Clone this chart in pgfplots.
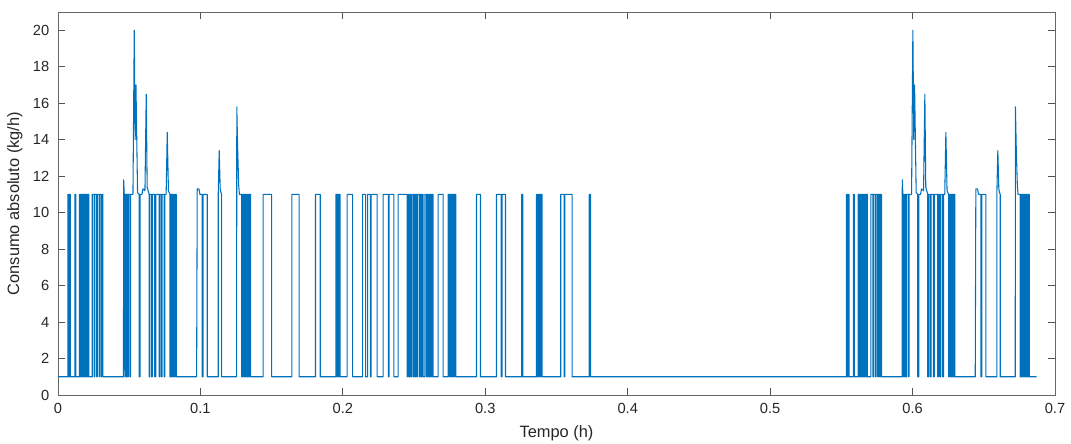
\documentclass[border=0pt]{standalone}
\usepackage{pgfplots}
\pgfplotsset{compat=1.18}
\usepackage{fontspec}
\setmainfont{Liberation Sans}
\definecolor{mblue}{rgb}{0,0.447,0.741}
\definecolor{axgray}{rgb}{0.15,0.15,0.15}
\begin{document}
\begin{tikzpicture}
\begin{axis}[
  at={(0,0)}, anchor=origin,
  scale only axis,
  width=747.75pt, height=287.25pt,
  xmin=0, xmax=0.7, ymin=0, ymax=21,
  xtick={0,0.1,0.2,0.3,0.4,0.5,0.6,0.7},
  ytick={0,2,4,6,8,10,12,14,16,18,20},
  tick align=inside, tick pos=both,
  major tick length=5pt,
  axis line style={draw=axgray!70, line width=0.6pt},
  every tick/.style={axgray!80, line width=0.6pt},
  /pgf/number format/assume math mode=true,
  ticklabel style={font=\fontsize{11}{13}\selectfont, text=axgray},
  xticklabel style={yshift=-2.5pt},
  yticklabel style={xshift=-3pt},
  xlabel={Tempo (h)}, ylabel={Consumo absoluto (kg/h)},
  label style={font=\fontsize{12.3}{14}\selectfont, text=axgray},
  xlabel style={yshift=-2pt},
  ylabel style={yshift=1pt},
]
\addplot[mblue, line width=0.8pt, line join=round] coordinates {
(0,1)
(0.00688,1)(0.00688,11)(0.00744,11)(0.00744,1)
(0.00814,1)(0.00814,11)(0.00870,11)(0.00870,1)
(0.01179,1)(0.01179,11)(0.01249,11)(0.01249,1)
(0.01509,1)(0.01509,11)(0.01551,11)(0.01551,1)
(0.01586,1)(0.01586,11)(0.01628,11)(0.01628,1)
(0.01656,1)(0.01656,11)(0.01705,11)(0.01705,1)
(0.01740,1)(0.01740,11)(0.01782,11)(0.01782,1)
(0.01818,1)(0.01818,11)(0.01860,11)(0.01860,1)
(0.01895,1)(0.01895,11)(0.01937,11)(0.01937,1)
(0.01965,1)(0.01965,11)(0.02014,11)(0.02014,1)
(0.02042,1)(0.02042,11)(0.02084,11)(0.02084,1)
(0.02119,1)(0.02119,11)(0.02161,11)(0.02161,1)
(0.02407,1)(0.02407,11)(0.02547,11)(0.02547,1)
(0.02589,1)(0.02589,11)(0.02723,11)(0.02723,1)
(0.02765,1)(0.02765,11)(0.02884,11)(0.02884,1)
(0.02926,1)(0.02926,11)(0.03025,11)(0.03025,1)
(0.03067,1)(0.03067,11)(0.03151,11)(0.03151,1)
(0.04596,1)(0.04611,11.8)(0.04653,11)(0.04695,11)(0.04695,1)
(0.04737,1)(0.04737,11)(0.04793,11)(0.04793,1)
(0.04835,1)(0.04835,11)(0.04891,11)(0.04891,1)
(0.04933,1)(0.04933,11)(0.05053,11)(0.05053,1)
(0.05095,1)(0.05095,11)(0.05263,11)(0.05354,20)(0.05418,14)(0.05474,17)(0.05586,11.1)(0.05698,11)(0.05698,1)
(0.05768,1)(0.05768,11)(0.05895,11)(0.05965,11.3)(0.06105,11.2)(0.06196,16.5)(0.06260,11.4)(0.06330,11.2)(0.06400,11)(0.06400,1)
(0.06456,1)(0.06456,11)(0.06568,11)(0.06568,1)
(0.06625,1)(0.06625,11)(0.06793,11)(0.06793,1)
(0.06863,1)(0.06863,11)(0.07102,11)(0.07102,1)
(0.07158,1)(0.07158,11)(0.07256,11)(0.07256,1)
(0.07312,1)(0.07312,11)(0.07453,11)(0.07453,1)
(0.07509,1)(0.07509,11)(0.07593,11)(0.07670,14.4)(0.07754,11.2)(0.07860,11)(0.07860,1)
(0.07916,1)(0.07916,11)(0.07986,11)(0.07986,1)
(0.08021,1)(0.08021,11)(0.08063,11)(0.08063,1)
(0.08098,1)(0.08098,11)(0.08140,11)(0.08140,1)
(0.08175,1)(0.08175,11)(0.08218,11)(0.08218,1)
(0.08253,1)(0.08253,11)(0.08302,11)(0.08302,1)
(0.09733,1)(0.09775,11.3)(0.09895,11.3)(0.09965,11)(0.10126,11)(0.10126,1)
(0.10189,1)(0.10189,11)(0.10477,11)(0.10477,1)
(0.11249,1)(0.11249,11)(0.11319,13.4)(0.11389,11.3)(0.11439,11.1)(0.11488,11)(0.11488,1)
(0.12540,1)(0.12554,15.8)(0.12611,13.6)(0.12688,11.5)(0.12737,11)(0.12891,11)(0.12891,1)
(0.12933,1)(0.12933,11)(0.12975,11)(0.12975,1)
(0.13011,1)(0.13011,11)(0.13053,11)(0.13053,1)
(0.13088,1)(0.13088,11)(0.13130,11)(0.13130,1)
(0.13165,1)(0.13165,11)(0.13207,11)(0.13207,1)
(0.13242,1)(0.13242,11)(0.13284,11)(0.13284,1)
(0.13319,1)(0.13319,11)(0.13368,11)(0.13368,1)
(0.13404,1)(0.13404,11)(0.13446,11)(0.13446,1)
(0.13481,1)(0.13481,11)(0.13523,11)(0.13523,1)
(0.14407,1)(0.14407,11)(0.14996,11)(0.14996,1)
(0.16421,1)(0.16421,11)(0.16926,11)(0.16926,1)
(0.18077,1)(0.18077,11)(0.18414,11)(0.18414,1)
(0.19509,1)(0.19509,11)(0.19565,11)(0.19565,1)
(0.19600,1)(0.19600,11)(0.19649,11)(0.19649,1)
(0.19684,1)(0.19684,11)(0.19726,11)(0.19726,1)
(0.19754,1)(0.19754,11)(0.19804,11)(0.19804,1)
(0.20302,1)(0.20302,11)(0.20681,11)(0.20681,1)
(0.21382,1)(0.21382,11)(0.21593,11)(0.21593,1)
(0.21733,1)(0.21733,11)(0.21930,11)(0.21930,1)
(0.21986,1)(0.21986,11)(0.22407,11)(0.22407,1)
(0.22828,1)(0.22828,11)(0.23193,11)(0.23193,1)
(0.23249,1)(0.23249,11)(0.23579,11)(0.23579,1)
(0.23881,1)(0.23881,11)(0.24512,11)(0.24512,1)
(0.24582,1)(0.24582,11)(0.24667,11)(0.24667,1)
(0.24723,1)(0.24723,11)(0.24786,11)(0.24786,1)
(0.24842,1)(0.24842,11)(0.24947,11)(0.24947,1)
(0.25004,1)(0.25004,11)(0.25067,11)(0.25067,1)
(0.25123,1)(0.25123,11)(0.25193,11)(0.25193,1)
(0.25249,1)(0.25249,11)(0.25368,11)(0.25368,1)
(0.25418,1)(0.25418,11)(0.25488,11)(0.25488,1)
(0.25544,1)(0.25544,11)(0.25635,11)(0.25635,1)
(0.25754,1)(0.25754,11)(0.25860,11)(0.25860,1)
(0.25909,1)(0.25909,11)(0.25965,11)(0.25965,1)
(0.26007,1)(0.26007,11)(0.26063,11)(0.26063,1)
(0.26105,1)(0.26105,11)(0.26161,11)(0.26161,1)
(0.26204,1)(0.26204,11)(0.26253,11)(0.26253,1)
(0.26288,1)(0.26288,11)(0.26337,11)(0.26337,1)
(0.26688,1)(0.26688,11)(0.27039,11)(0.27039,1)
(0.27389,1)(0.27389,11)(0.27460,11)(0.27460,1)
(0.27502,1)(0.27502,11)(0.27593,11)(0.27593,1)
(0.27635,1)(0.27635,11)(0.27691,11)(0.27691,1)
(0.27733,1)(0.27733,11)(0.27804,11)(0.27804,1)
(0.27846,1)(0.27846,11)(0.27930,11)(0.27930,1)
(0.29382,1)(0.29382,11)(0.29663,11)(0.29663,1)
(0.30786,1)(0.30786,11)(0.31123,11)(0.31123,1)
(0.31179,1)(0.31179,11)(0.31418,11)(0.31418,1)
(0.32561,1)(0.32561,11)(0.32632,11)(0.32632,1)
(0.33593,1)(0.33593,11)(0.33656,11)(0.33656,1)
(0.33698,1)(0.33698,11)(0.33782,11)(0.33782,1)
(0.33825,1)(0.33825,11)(0.33881,11)(0.33881,1)
(0.33923,1)(0.33923,11)(0.33986,11)(0.33986,1)
(0.35298,1)(0.35298,11)(0.35530,11)(0.35530,1)
(0.35586,1)(0.35586,11)(0.36091,11)(0.36091,1)
(0.37298,1)(0.37298,11)(0.37389,11)(0.37389,1)
(0.55355,1)(0.55355,11)(0.55411,11)(0.55411,1)
(0.55481,1)(0.55481,11)(0.55537,11)(0.55537,1)
(0.55846,1)(0.55846,11)(0.55916,11)(0.55916,1)
(0.56176,1)(0.56176,11)(0.56218,11)(0.56218,1)
(0.56253,1)(0.56253,11)(0.56295,11)(0.56295,1)
(0.56323,1)(0.56323,11)(0.56372,11)(0.56372,1)
(0.56407,1)(0.56407,11)(0.56449,11)(0.56449,1)
(0.56485,1)(0.56485,11)(0.56527,11)(0.56527,1)
(0.56562,1)(0.56562,11)(0.56604,11)(0.56604,1)
(0.56632,1)(0.56632,11)(0.56681,11)(0.56681,1)
(0.56709,1)(0.56709,11)(0.56751,11)(0.56751,1)
(0.56786,1)(0.56786,11)(0.56828,11)(0.56828,1)
(0.57074,1)(0.57074,11)(0.57214,11)(0.57214,1)
(0.57256,1)(0.57256,11)(0.57390,11)(0.57390,1)
(0.57432,1)(0.57432,11)(0.57551,11)(0.57551,1)
(0.57593,1)(0.57593,11)(0.57692,11)(0.57692,1)
(0.57734,1)(0.57734,11)(0.57818,11)(0.57818,1)
(0.59263,1)(0.59278,11.8)(0.59320,11)(0.59362,11)(0.59362,1)
(0.59404,1)(0.59404,11)(0.59460,11)(0.59460,1)
(0.59502,1)(0.59502,11)(0.59558,11)(0.59558,1)
(0.59600,1)(0.59600,11)(0.59720,11)(0.59720,1)
(0.59762,1)(0.59762,11)(0.59930,11)(0.60021,20)(0.60085,14)(0.60141,17)(0.60253,11.1)(0.60365,11)(0.60365,1)
(0.60435,1)(0.60435,11)(0.60562,11)(0.60632,11.3)(0.60772,11.2)(0.60863,16.5)(0.60927,11.4)(0.60997,11.2)(0.61067,11)(0.61067,1)
(0.61123,1)(0.61123,11)(0.61235,11)(0.61235,1)
(0.61292,1)(0.61292,11)(0.61460,11)(0.61460,1)
(0.61530,1)(0.61530,11)(0.61769,11)(0.61769,1)
(0.61825,1)(0.61825,11)(0.61923,11)(0.61923,1)
(0.61979,1)(0.61979,11)(0.62120,11)(0.62120,1)
(0.62176,1)(0.62176,11)(0.62260,11)(0.62337,14.4)(0.62421,11.2)(0.62527,11)(0.62527,1)
(0.62583,1)(0.62583,11)(0.62653,11)(0.62653,1)
(0.62688,1)(0.62688,11)(0.62730,11)(0.62730,1)
(0.62765,1)(0.62765,11)(0.62807,11)(0.62807,1)
(0.62842,1)(0.62842,11)(0.62885,11)(0.62885,1)
(0.62920,1)(0.62920,11)(0.62969,11)(0.62969,1)
(0.64400,1)(0.64442,11.3)(0.64562,11.3)(0.64632,11)(0.64793,11)(0.64793,1)
(0.64856,1)(0.64856,11)(0.65144,11)(0.65144,1)
(0.65916,1)(0.65916,11)(0.65986,13.4)(0.66056,11.3)(0.66106,11.1)(0.66155,11)(0.66155,1)
(0.67207,1)(0.67221,15.8)(0.67278,13.6)(0.67355,11.5)(0.67404,11)(0.67558,11)(0.67558,1)
(0.67600,1)(0.67600,11)(0.67642,11)(0.67642,1)
(0.67678,1)(0.67678,11)(0.67720,11)(0.67720,1)
(0.67755,1)(0.67755,11)(0.67797,11)(0.67797,1)
(0.67832,1)(0.67832,11)(0.67874,11)(0.67874,1)
(0.67909,1)(0.67909,11)(0.67951,11)(0.67951,1)
(0.67986,1)(0.67986,11)(0.68035,11)(0.68035,1)
(0.68071,1)(0.68071,11)(0.68113,11)(0.68113,1)
(0.68148,1)(0.68148,11)(0.68190,11)(0.68190,1)
(0.68702,1)
};
\end{axis}
\pgfresetboundingbox
\useasboundingbox (-43.5pt,-36pt) rectangle (759.75pt,296.25pt);
\end{tikzpicture}
\end{document}
